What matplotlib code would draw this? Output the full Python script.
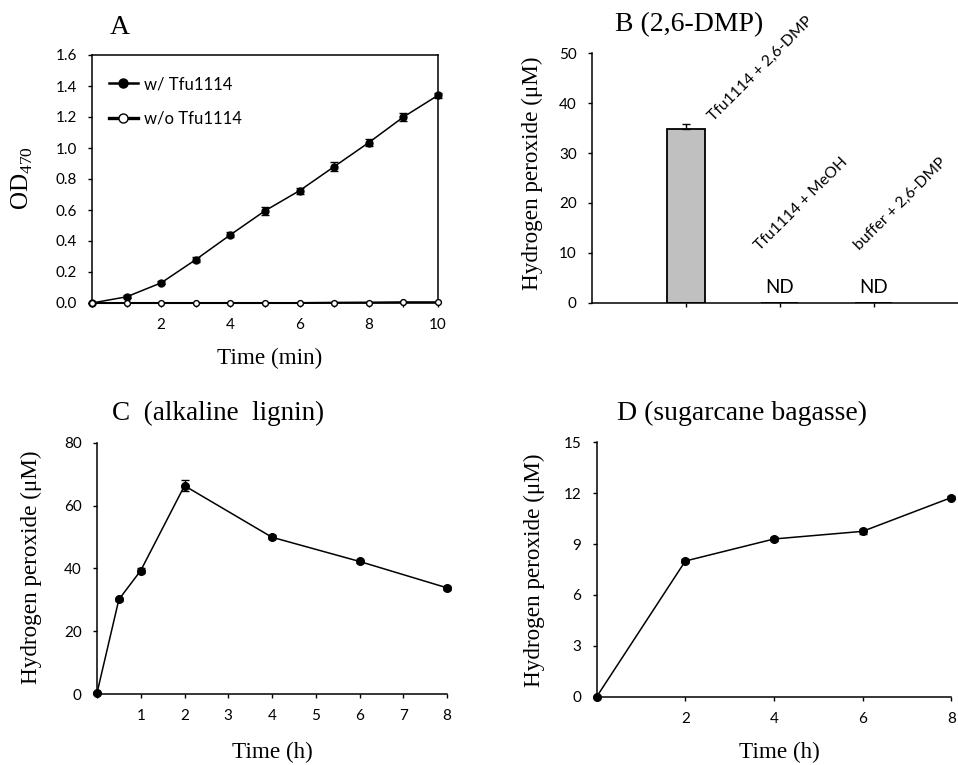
import numpy as np
import matplotlib
matplotlib.use("Agg")
import matplotlib.pyplot as plt
from matplotlib.lines import Line2D

plt.rcParams['font.family'] = ['Lato', 'DejaVu Sans']
plt.rcParams['mathtext.fontset'] = 'custom'
plt.rcParams['mathtext.rm'] = 'Liberation Serif'
plt.rcParams['xtick.direction'] = 'out'
plt.rcParams['ytick.direction'] = 'out'

SERIF = 'Liberation Serif'
TICK_FS = 11
LABEL_FS = 16.7
TITLE_FS = 20

# A: OD470 over time
time_a = [0, 1, 2, 3, 4, 5, 6, 7, 8, 9, 10]
od_with = [0.0, 0.04, 0.13, 0.28, 0.44, 0.595, 0.725, 0.88, 1.035, 1.20, 1.34]
od_with_err = [0.0, 0.01, 0.01, 0.015, 0.015, 0.025, 0.02, 0.03, 0.025, 0.025, 0.015]
od_without = [0.0, 0.0, 0.0, 0.0, 0.0, 0.0, 0.0, 0.002, 0.003, 0.005, 0.005]

# B: H2O2 with 2,6-DMP
b_labels = ['Tfu1114 + 2,6-DMP', 'Tfu1114 + MeOH', 'buffer + 2,6-DMP']
b_values = [34.8, 0.0, 0.0]
b_err = [1.0, 0.0, 0.0]
b_detected = [True, False, False]

# C: alkaline lignin
time_c = [0, 0.5, 1, 2, 4, 6, 8]
h2o2_c = [0.3, 30.1, 39.3, 66.3, 49.9, 42.2, 33.8]
h2o2_c_err = [0.3, 0.6, 0.8, 1.8, 0.6, 0.6, 0.6]

# D: sugarcane bagasse
time_d = [0, 2, 4, 6, 8]
h2o2_d = [0.0, 8.0, 9.3, 9.75, 11.74]
h2o2_d_err = [0.05, 0.1, 0.1, 0.15, 0.1]

W, H = 958, 765
fig = plt.figure(figsize=(W / 100, H / 100), dpi=100)


def px_axes(left, top, right, bottom):
    return fig.add_axes([left / W, 1 - bottom / H, (right - left) / W, (bottom - top) / H])


def style_ticks(ax):
    ax.tick_params(labelsize=TICK_FS, length=3, width=1, pad=8)
    for s in ax.spines.values():
        s.set_linewidth(1.1)


def ax_label(ax, x, y, text, rot=0, size=LABEL_FS):
    ax.text(x, y, text, transform=ax.transAxes, ha='center', va='center',
            rotation=rot, family=SERIF, fontsize=size, clip_on=False)


# ---- A ----
axA = px_axes(92, 55, 438, 303)
axA.errorbar(time_a, od_with, yerr=od_with_err, color='black', lw=1.1,
             marker='o', ms=5, mfc='black', mec='black',
             ecolor='black', elinewidth=1, capsize=3, clip_on=False, zorder=3)
axA.plot(time_a, od_without, color='black', lw=1.5, marker='o', ms=4.2,
         mfc='white', mec='black', mew=1, clip_on=False, zorder=4)
axA.set_xlim(0, 10)
axA.set_ylim(0, 1.6)
axA.set_xticks(range(0, 11))
axA.set_xticklabels(['' if (t == 0 or t % 2) else str(t) for t in range(0, 11)])
axA.set_yticks(np.arange(0, 1.61, 0.2))
axA.set_yticklabels([f'{v:.1f}' for v in np.arange(0, 1.61, 0.2)])
style_ticks(axA)
handles = [Line2D([], [], color='black', lw=1.8, marker='o', ms=6.5, mfc='black', mec='black'),
           Line2D([], [], color='black', lw=2.4, marker='o', ms=6.5, mfc='white', mec='black')]
axA.legend(handles, ['w/ Tfu1114', 'w/o Tfu1114'], loc='upper left',
           bbox_to_anchor=(0.05, 0.915), frameon=False, fontsize=12,
           handlelength=1.7, handletextpad=0.4, labelspacing=1.1,
           borderpad=0, borderaxespad=0)
ax_label(axA, 0.514, -0.222, 'Time (min)')
ax_label(axA, -0.2, 0.504, r'OD$_{\rm 470}$', rot=90, size=18)
fig.text(120 / W, 1 - 27 / H, 'A', family=SERIF, fontsize=TITLE_FS, ha='center', va='center')

# ---- B ----
axB = px_axes(592, 53.3, 958, 302.7)
pos = np.arange(1, len(b_labels) + 1)
axB.bar(pos, b_values, width=0.4, color='#c0c0c0', edgecolor='black', linewidth=1.3, zorder=2)
for x, v, e, ok in zip(pos, b_values, b_err, b_detected):
    if ok:
        axB.errorbar([x], [v], yerr=[[0], [e]], color='black', lw=0, elinewidth=1,
                     capsize=3, zorder=3)
    else:
        axB.text(x, 3.0, 'ND', ha='center', va='center', fontsize=13.5)
label_y = [b_values[0] + 1.1, 10.0, 10.0]
label_dx = [0.32, -0.19, -0.13]
for x, lab, ly, dx in zip(pos, b_labels, label_y, label_dx):
    axB.text(x + dx, ly, lab, rotation=45, rotation_mode='anchor', ha='left', va='bottom',
             fontsize=11.3)
axB.set_xlim(0, 3.9)
axB.set_ylim(0, 50)
axB.set_xticks(pos)
axB.set_xticklabels([])
axB.set_yticks(range(0, 51, 10))
axB.spines['top'].set_visible(False)
axB.spines['right'].set_visible(False)
style_ticks(axB)
ax_label(axB, -0.164, 0.52, 'Hydrogen peroxide (\u03bcM)', rot=90)
fig.text(689 / W, 1 - 25 / H, 'B (2,6-DMP)', family=SERIF, fontsize=TITLE_FS, ha='center', va='center')

# ---- C ----
axC = px_axes(97, 442.7, 447, 694)
axC.errorbar(time_c, h2o2_c, yerr=h2o2_c_err, color='black', lw=1.1,
             marker='o', ms=5.5, mfc='black', mec='black',
             elinewidth=1, capsize=3, clip_on=False, zorder=3)
axC.set_xlim(0, 8)
axC.set_ylim(0, 80)
axC.set_xticks(range(0, 9))
axC.set_xticklabels([''] + [str(t) for t in range(1, 9)])
axC.set_yticks(range(0, 81, 20))
axC.spines['top'].set_visible(False)
axC.spines['right'].set_visible(False)
style_ticks(axC)
ax_label(axC, 0.5, -0.234, 'Time (h)')
ax_label(axC, -0.186, 0.505, 'Hydrogen peroxide (\u03bcM)', rot=90)
fig.text(218 / W, 1 - 413 / H, 'C  (alkaline  lignin)', family=SERIF, fontsize=19.5,
         ha='center', va='center')

# ---- D ----
axD = px_axes(596.7, 442.3, 951.3, 696.7)
axD.errorbar(time_d, h2o2_d, yerr=h2o2_d_err, color='black', lw=1.1,
             marker='o', ms=5.5, mfc='black', mec='black',
             elinewidth=1, capsize=3, clip_on=False, zorder=3)
axD.set_xlim(0, 8)
axD.set_ylim(0, 15)
axD.set_xticks(range(0, 9, 2))
axD.set_xticklabels([''] + [str(t) for t in range(2, 9, 2)])
axD.set_yticks(range(0, 16, 3))
axD.spines['top'].set_visible(False)
axD.spines['right'].set_visible(False)
style_ticks(axD)
ax_label(axD, 0.514, -0.221, 'Time (h)')
ax_label(axD, -0.177, 0.498, 'Hydrogen peroxide (\u03bcM)', rot=90)
fig.text(742 / W, 1 - 413 / H, 'D (sugarcane bagasse)', family=SERIF, fontsize=TITLE_FS,
         ha='center', va='center')

fig.savefig('out.png', dpi=100)
